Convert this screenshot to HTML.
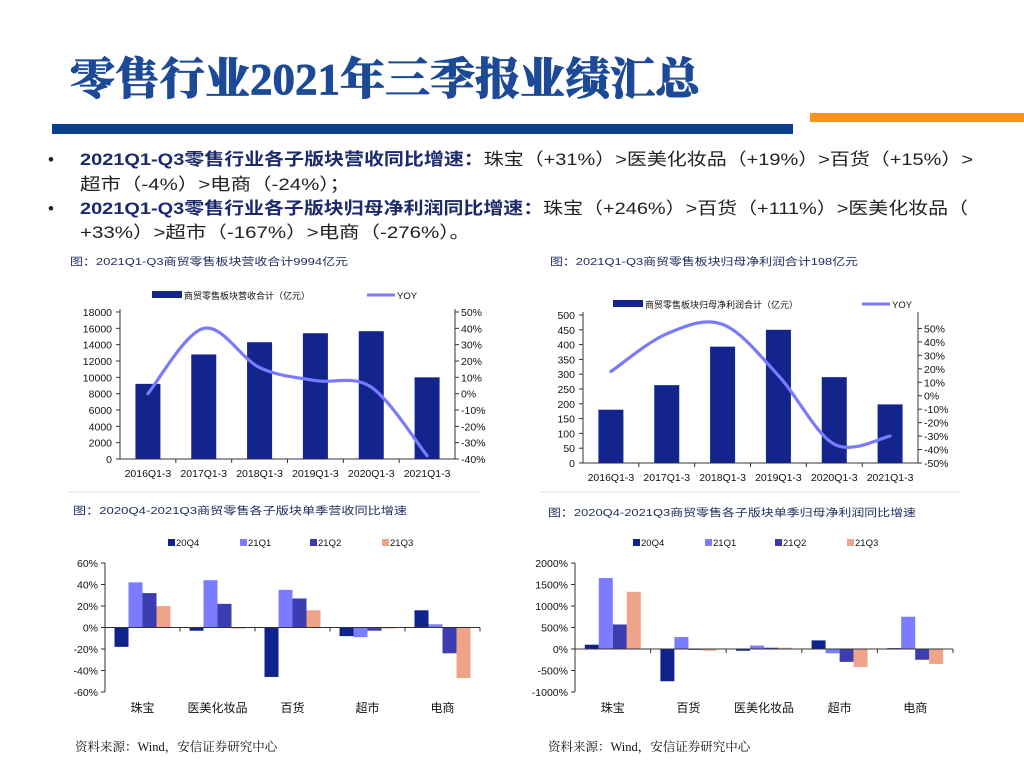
<!DOCTYPE html>
<html><head><meta charset="utf-8"><style>
html,body{margin:0;padding:0;background:#fff;}
svg{display:block;font-family:"Liberation Sans","Noto Sans CJK SC",sans-serif;}
.sr{font-family:"Liberation Serif","Noto Serif CJK SC",serif;}
</style></head><body>
<svg id="page" width="1024" height="768" viewBox="0 0 1024 768">
<g>
<text x="70" y="94" class="sr" font-size="44" font-weight="900" fill="#1c4a96" stroke="#1c4a96" stroke-width="0.8" textLength="630" lengthAdjust="spacingAndGlyphs">零售行业2021年三季报业绩汇总</text>
</g>
<rect x="52" y="124" width="741" height="10" fill="#0c3f8c"/>
<rect x="810" y="113" width="214" height="9" fill="#f7931e"/>
<g font-size="17" fill="#222">
<text x="48" y="165">•</text>
<text x="80" y="165" textLength="893" lengthAdjust="spacingAndGlyphs"><tspan font-weight="bold" fill="#1a2a6c">2021Q1-Q3零售行业各子版块营收同比增速：</tspan>珠宝（+31%）&gt;医美化妆品（+19%）&gt;百货（+15%）&gt;</text>
<text x="80" y="190" textLength="270" lengthAdjust="spacingAndGlyphs">超市（-4%）&gt;电商（-24%）；</text>
<text x="48" y="214">•</text>
<text x="80" y="214" textLength="888" lengthAdjust="spacingAndGlyphs"><tspan font-weight="bold" fill="#1a2a6c">2021Q1-Q3零售行业各子版块归母净利润同比增速：</tspan>珠宝（+246%）&gt;百货（+111%）&gt;医美化妆品（</text>
<text x="80" y="238" textLength="390" lengthAdjust="spacingAndGlyphs">+33%）&gt;超市（-167%）&gt;电商（-276%）。</text>
</g>
<g font-size="10.5" fill="#1c2a5e">
<text x="70" y="265" textLength="278" lengthAdjust="spacingAndGlyphs">图：2021Q1-Q3商贸零售板块营收合计9994亿元</text>
<text x="550" y="265" textLength="308" lengthAdjust="spacingAndGlyphs">图：2021Q1-Q3商贸零售板块归母净利润合计198亿元</text>
<text x="73" y="514" textLength="334" lengthAdjust="spacingAndGlyphs">图：2020Q4-2021Q3商贸零售各子版块单季营收同比增速</text>
<text x="548" y="516" textLength="368" lengthAdjust="spacingAndGlyphs">图：2020Q4-2021Q3商贸零售各子版块单季归母净利润同比增速</text>
</g>
<line x1="68" y1="492" x2="480" y2="492" stroke="#eeeeee" stroke-width="2"/>
<line x1="540" y1="492" x2="960" y2="492" stroke="#eeeeee" stroke-width="2"/>
<g font-size="12.5" fill="#111" class="sr">
<text x="75" y="751">资料来源：Wind，安信证券研究中心</text>
<text x="548" y="751">资料来源：Wind，安信证券研究中心</text>
</g>
<g id="charts"></g>
</svg>
<script>
// Chart 1 data
const c1Cats = ["2016Q1-3","2017Q1-3","2018Q1-3","2019Q1-3","2020Q1-3","2021Q1-3"];
const c1Revenue = [9200,12800,14300,15400,15650,10000];
const c1Yoy = [0,40,16,8,4,-38];
const c1LeftTicks = [0,2000,4000,6000,8000,10000,12000,14000,16000,18000];
const c1RightTicks = [-40,-30,-20,-10,0,10,20,30,40,50];
// Chart 2 data
const c2Cats = ["2016Q1-3","2017Q1-3","2018Q1-3","2019Q1-3","2020Q1-3","2021Q1-3"];
const c2Profit = [180,263,393,450,290,198];
const c2Yoy = [18,46,53,15,-36,-30];
const c2LeftTicks = [0,50,100,150,200,250,300,350,400,450,500];
const c2RightTicks = [-50,-40,-30,-20,-10,0,10,20,30,40,50];
// Chart 3 data
const c3Cats = ["珠宝","医美化妆品","百货","超市","电商"];
const c3Q4 = [-18,-3,-46,-8,16];
const c3Q1 = [42,44,35,-9,3];
const c3Q2 = [32,22,27,-3,-24];
const c3Q3 = [20,-1,16,-1,-47];
const c3Ticks = [-60,-40,-20,0,20,40,60];
// Chart 4 data
const c4Cats = ["珠宝","百货","医美化妆品","超市","电商"];
const c4Q4 = [100,-750,-40,200,20];
const c4Q1 = [1650,280,80,-100,750];
const c4Q2 = [570,-20,30,-300,-250];
const c4Q3 = [1330,-40,30,-420,-350];
const c4Ticks = [-1000,-500,0,500,1000,1500,2000];
const seriesNames = ["20Q4","21Q1","21Q2","21Q3"];

const NS="http://www.w3.org/2000/svg";
const root=document.getElementById('charts');
function mk(tag,attrs,parent){const e=document.createElementNS(NS,tag);for(const k in attrs)e.setAttribute(k,attrs[k]);(parent||root).appendChild(e);return e;}
function txt(s,x,y,size,anchor,parent,fill){const t=mk('text',{x:x,y:y,'font-size':size,'text-anchor':anchor||'start',fill:fill||'#111'},parent);t.textContent=s;return t;}
function smooth(pts){let d=`M${pts[0][0]},${pts[0][1]}`;for(let i=0;i<pts.length-1;i++){const p0=pts[i-1]||pts[i],p1=pts[i],p2=pts[i+1],p3=pts[i+2]||p2;const c1x=p1[0]+(p2[0]-p0[0])/6,c1y=p1[1]+(p2[1]-p0[1])/6,c2x=p2[0]-(p3[0]-p1[0])/6,c2y=p2[1]-(p3[1]-p1[1])/6;d+=` C${c1x},${c1y} ${c2x},${c2y} ${p2[0]},${p2[1]}`;}return d;}

function comboChart(o){
  const g=mk('g',{});
  
  
  const yL=v=>o.y0-(v-o.lMin)/(o.lMax-o.lMin)*(o.y0-o.y1);
  const yR=v=>o.y0-(v-o.rMin)/(o.rMax-o.rMin)*(o.y0-o.y1);
  const n=o.cats.length, step=(o.x1-o.x0)/n;
  const xc=i=>o.x0+step*(i+0.5);
  const ax=mk('path',{d:`M${o.x0},${o.y1-3}V${o.y0}H${o.x1}M${o.x1},${o.y1-3}V${o.y0}`,stroke:'#333',fill:'none','stroke-width':1},g);
  
  
  o.lTicks.forEach(v=>{mk('line',{x1:o.x0-4,x2:o.x0,y1:yL(v),y2:yL(v),stroke:'#333'},g);const t=txt(String(v),o.x0-8,yL(v)+4,10.5,'end',g);});
  o.rTicks.forEach(v=>{mk('line',{x1:o.x1,x2:o.x1+4,y1:yR(v),y2:yR(v),stroke:'#333'},g);const t=txt(v+'%',o.x1+6,yR(v)+4,10.5,'start',g);});
  for(let i=1;i<n;i++)mk('line',{x1:o.x0+step*i,x2:o.x0+step*i,y1:o.y0,y2:o.y0+4,stroke:'#333'},g);
  o.bars.forEach((v,i)=>{const r=mk('rect',{x:xc(i)-12.5,y:yL(v),width:25,height:o.y0-yL(v),fill:'#13248c'},g);});
  const pts=o.yoy.map((v,i)=>[xc(i),yR(v)]);
  const ln=mk('path',{d:smooth(pts),stroke:'#7a7aff',fill:'none','stroke-width':3.2,'stroke-linecap':'round'},g);
  
  
  o.cats.forEach((c,i)=>{const t=txt(c,xc(i),o.y0+18,10.5,'middle',g);});
  const lr=mk('rect',{x:o.lgX,y:o.lgY-5,width:30,height:7,fill:'#13248c'},g);
  
  
  const lt=txt(o.lgText,o.lgX+32,o.lgY+3,9,'start',g);
  
  
  const ll=mk('line',{x1:o.lgX2,x2:o.lgX2+28,y1:o.lgY-1,y2:o.lgY-1,stroke:'#7a7aff','stroke-width':3},g);
  
  
  const lt2=txt('YOY',o.lgX2+30,o.lgY+3,9.5,'start',g);
  
  
  return g;
}
comboChart({name:'revenue-chart',cats:c1Cats,bars:c1Revenue,yoy:c1Yoy,lTicks:c1LeftTicks,rTicks:c1RightTicks,lMin:0,lMax:18000,rMin:-40,rMax:50,x0:120,x1:455,y0:459,y1:312,lgX:152,lgY:296,lgX2:367,lgText:'商贸零售板块营收合计（亿元）'});
comboChart({name:'profit-chart',cats:c2Cats,bars:c2Profit,yoy:c2Yoy,lTicks:c2LeftTicks,rTicks:c2RightTicks,lMin:0,lMax:500,rMin:-50,rMax:60,x0:583,x1:918,y0:463,y1:315,lgX:613,lgY:305,lgX2:862,lgText:'商贸零售板块归母净利润合计（亿元）'});
const cols=['#0f238c','#7b7cff','#3b3db0','#eda488'];
function groupChart(o){
  const g=mk('g',{});
  
  
  const y=v=>o.y0-(v-o.min)/(o.max-o.min)*(o.y0-o.y1);
  const n=o.cats.length, step=(o.x1-o.x0)/n;
  const ax=mk('path',{d:`M${o.x0},${o.y1}V${o.y0}`,stroke:'#333',fill:'none'},g);
  
  
  o.ticks.forEach(v=>{mk('line',{x1:o.x0-4,x2:o.x0,y1:y(v),y2:y(v),stroke:'#333'},g);const t=txt(o.fmt(v),o.x0-7,y(v)+4,10.5,'end',g);});
  const w=14, off=(step-4*w)/2;
  o.series.forEach((s,k)=>{s.forEach((v,i)=>{const x=o.x0+step*i+off+k*w;const y1=Math.min(y(v),y(0)),h=Math.abs(y(v)-y(0));const r=mk('rect',{x:x,y:y1,width:w,height:Math.max(h,0.8),fill:cols[k]},g);});});
  const za=mk('line',{x1:o.x0,x2:o.x1,y1:y(0),y2:y(0),stroke:'#333'},g);
  
  
  for(let i=1;i<=n;i++)mk('line',{x1:o.x0+step*i,x2:o.x0+step*i,y1:y(0),y2:y(0)+4,stroke:'#333'},g);
  o.cats.forEach((c,i)=>{const t=txt(c,o.x0+step*(i+0.5),o.y0+20,12,'middle',g);});
  seriesNames.forEach((s,k)=>{const r=mk('rect',{x:o.lg[k],y:539,width:7,height:7,fill:cols[k]},g);const t=txt(s,o.lg[k]+8,546,9.5,'start',g);});
}
groupChart({name:'revenue-growth-chart',cats:c3Cats,series:[c3Q4,c3Q1,c3Q2,c3Q3],ticks:c3Ticks,min:-60,max:60,x0:105,x1:480,y0:692,y1:563,fmt:v=>v+'%',lg:[168,240,310,382]});
groupChart({name:'profit-growth-chart',cats:c4Cats,series:[c4Q4,c4Q1,c4Q2,c4Q3],ticks:c4Ticks,min:-1000,max:2000,x0:575,x1:953,y0:692,y1:563,fmt:v=>v+'%',lg:[633,705,775,847]});
</script>
</body></html>
